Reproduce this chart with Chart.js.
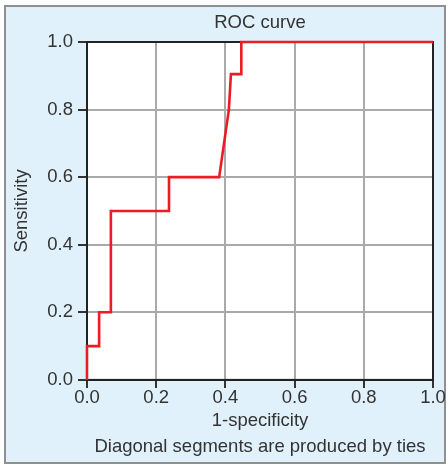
<!DOCTYPE html>
<html>
<head>
<meta charset="utf-8">
<script src="https://cdn.jsdelivr.net/npm/chart.js@4"></script>
<style>
  html, body { margin: 0; padding: 0; background: #ffffff; }
  canvas { display: block; }
</style>
</head>
<body>
<canvas id="c" width="448" height="466"></canvas>
<script>
// ---- data ----
const fpr = [0, 0, 0.035, 0.035, 0.069, 0.069, 0.237, 0.237, 0.382, 0.41, 0.416, 0.446, 0.446, 1.0];
const tpr = [0, 0.1, 0.1, 0.2, 0.2, 0.5, 0.5, 0.6, 0.6, 0.8, 0.905, 0.905, 1.0, 1.0];
const tickValues = [0, 0.2, 0.4, 0.6, 0.8, 1.0];
const titleText = 'ROC curve';
const xTitle = '1-specificity';
const yTitle = 'Sensitivity';
const footnote = 'Diagonal segments are produced by ties';

const points = fpr.map((x, i) => ({ x: x, y: tpr[i] }));
const FONT = 'Liberation Sans, Arial, sans-serif';
const FS = 18.5;
const TEXT = '#333333';

const framePlugin = {
  id: 'frame',
  beforeDraw(chart) {
    const ctx = chart.ctx;
    const a = chart.chartArea;
    ctx.save();
    ctx.fillStyle = '#ffffff';
    ctx.fillRect(0, 0, chart.width, chart.height);
    ctx.fillStyle = '#e0f1fb';
    ctx.fillRect(5, 6, 440, 457);
    ctx.strokeStyle = '#909090';
    ctx.lineWidth = 2;
    ctx.strokeRect(5, 6, 440, 457);
    ctx.fillStyle = '#ffffff';
    ctx.fillRect(a.left, a.top, a.right - a.left, a.bottom - a.top);
    ctx.restore();
  },
  beforeDatasetsDraw(chart) {
    const ctx = chart.ctx;
    const a = chart.chartArea;
    ctx.save();
    ctx.strokeStyle = '#222222';
    ctx.lineWidth = 2;
    ctx.strokeRect(a.left, a.top, a.right - a.left, a.bottom - a.top);
    ctx.restore();
  }
};

new Chart(document.getElementById('c'), {
  type: 'scatter',
  data: {
    datasets: [{
      data: points,
      showLine: true,
      borderColor: '#ed1c24',
      borderWidth: 2.6,
      pointRadius: 0,
      tension: 0,
      fill: false,
      clip: false
    }]
  },
  options: {
    responsive: false,
    animation: false,
    devicePixelRatio: 1,
    layout: { padding: { top: 6, left: 6, right: 15, bottom: 7.5 } },
    plugins: {
      legend: { display: false },
      tooltip: { enabled: false },
      title: {
        display: true,
        text: titleText,
        fullSize: false,
        color: TEXT,
        font: { family: FONT, size: FS, weight: 'normal' },
        padding: { top: 6, bottom: 7.8 }
      },
      subtitle: {
        display: true,
        text: footnote,
        position: 'bottom',
        fullSize: false,
        color: TEXT,
        font: { family: FONT, size: FS, weight: 'normal' },
        padding: { top: 0, bottom: 0 }
      }
    },
    scales: {
      x: {
        type: 'linear',
        min: 0, max: 1,
        afterBuildTicks(s) { s.ticks = tickValues.map(v => ({ value: v })); },
        afterFit(s) { s.height = 56.4; },
        ticks: {
          color: TEXT,
          font: { family: FONT, size: FS },
          padding: -1.3,
          maxRotation: 0,
          callback: v => Number(v).toFixed(1)
        },
        grid: { color: '#aaaaaa', lineWidth: 2, tickColor: '#333333', tickLength: 8 },
        border: { display: true, color: '#222222', width: 2 },
        title: {
          display: true, text: xTitle, color: TEXT,
          font: { family: FONT, size: FS },
          padding: { top: 0, bottom: 3.8 }
        }
      },
      y: {
        type: 'linear',
        min: 0, max: 1,
        afterBuildTicks(s) { s.ticks = tickValues.map(v => ({ value: v })); },
        afterFit(s) { s.width = 81; },
        ticks: {
          color: TEXT,
          font: { family: FONT, size: FS },
          padding: 5,
          callback: v => Number(v).toFixed(1)
        },
        grid: { color: '#aaaaaa', lineWidth: 2, tickColor: '#333333', tickLength: 9 },
        border: { display: true, color: '#222222', width: 2 },
        title: {
          display: true, text: yTitle, color: TEXT,
          font: { family: FONT, size: FS },
          padding: { top: 4.4, bottom: 0 }
        }
      }
    }
  },
  plugins: [framePlugin]
});
</script>
</body>
</html>
